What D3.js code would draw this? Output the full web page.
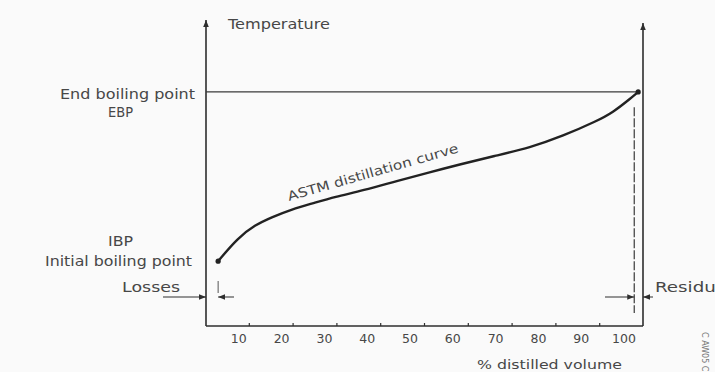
<!DOCTYPE html>
<html>
<head>
<meta charset="utf-8">
<script src="https://cdn.jsdelivr.net/npm/d3@7"></script>
<style>
  html, body { margin: 0; padding: 0; background: #fafafa; }
  svg { display: block; }
  text { font-family: "DejaVu Sans", sans-serif; fill: #474747; }
</style>
</head>
<body>
<svg id="chart" width="715" height="372"></svg>
<script>
// ---- data ----
const volume      = [3.0, 7.5, 11.4, 15.3, 19.9, 24.4, 29.7, 36.1, 43.8, 51.4, 58.2, 66.2, 74.2, 81.7, 89.5, 93.2, 97.0, 98.9];
const temperature = [21.2, 28.8, 33.0, 35.6, 38.2, 40.0, 42.2, 44.3, 47.4, 50.3, 52.8, 55.6, 58.3, 62.1, 67.0, 69.9, 74.2, 76.5];
const tickValues  = [10, 20, 30, 40, 50, 60, 70, 80, 90, 100];
const tickLabels  = ["10", "20", "30", "40", "50", "60", "70", "80", "90", "100"];
const lossesEnd   = 3.0;   // % where distillation begins (IBP)
const residueStart = 98.0; // % where residue begins
const ebpTemp     = 76.5;

const svg = d3.select("#chart");
const x = d3.scaleLinear().domain([0, 100]).range([205, 643]);
const y = d3.scaleLinear().domain([0, 100]).range([326, 20]);

const ink = "#2e2e2e";

// arrow markers
const defs = svg.append("defs");
defs.append("marker").attr("id", "arr").attr("viewBox", "0 0 10 10")
  .attr("refX", 10).attr("refY", 5).attr("markerWidth", 7).attr("markerHeight", 7)
  .attr("orient", "auto-start-reverse").attr("markerUnits", "userSpaceOnUse")
  .append("path").attr("d", "M0,1 L10,5 L0,9 Z").attr("fill", ink);

// left axis
svg.append("line").attr("x1", x(0) + 1).attr("x2", x(0) + 1)
  .attr("y1", y(0)).attr("y2", y(100))
  .attr("stroke", ink).attr("stroke-width", 1.6).attr("marker-end", "url(#arr)");
// right axis
svg.append("line").attr("x1", x(100)).attr("x2", x(100))
  .attr("y1", y(0)).attr("y2", y(99))
  .attr("stroke", ink).attr("stroke-width", 1.6).attr("marker-end", "url(#arr)");

// bottom axis
const xAxis = d3.axisTop(x).tickValues(tickValues.slice(0, -1)).tickSize(3).tickFormat("");
const gx = svg.append("g").attr("transform", `translate(0,${y(0)})`).call(xAxis);
gx.select(".domain").attr("d", `M${x(0) + 1},0H${x(100)}`).attr("stroke", ink).attr("stroke-width", 1.6);
gx.selectAll(".tick line").attr("stroke", ink).attr("stroke-width", 1.2);

// tick labels
svg.append("g").selectAll("text").data(tickValues).join("text")
  .attr("x", (d, i) => x(d) - 10 - i * 1.0)
  .attr("y", 343)
  .attr("text-anchor", "middle")
  .attr("font-size", 12.5)
  .text((d, i) => tickLabels[i]);

// EBP horizontal line
svg.append("line").attr("x1", x(0) + 1).attr("x2", x(volume[volume.length - 1]))
  .attr("y1", y(ebpTemp)).attr("y2", y(ebpTemp))
  .attr("stroke", "#3a3a3a").attr("stroke-width", 1.3);

// residue dashed vertical line
svg.append("line").attr("x1", x(residueStart)).attr("x2", x(residueStart))
  .attr("y1", y(71.5)).attr("y2", 313)
  .attr("stroke", "#3a3a3a").attr("stroke-width", 1.2).attr("stroke-dasharray", "9,2");

// losses small vertical mark
svg.append("line").attr("x1", x(lossesEnd)).attr("x2", x(lossesEnd))
  .attr("y1", 281).attr("y2", 293)
  .attr("stroke", "#555").attr("stroke-width", 1);

// distillation curve
const pts = volume.map((v, i) => [v, temperature[i]]);
const line = d3.line().x(d => x(d[0])).y(d => y(d[1])).curve(d3.curveBasis);
svg.append("path").attr("d", line(pts)).attr("fill", "none")
  .attr("stroke", "#222").attr("stroke-width", 2.4).attr("stroke-linecap", "round");
// end points
svg.append("circle").attr("cx", x(volume[0])).attr("cy", y(temperature[0])).attr("r", 2.6).attr("fill", "#222");
svg.append("circle").attr("cx", x(volume[volume.length - 1])).attr("cy", y(temperature[temperature.length - 1])).attr("r", 2.6).attr("fill", "#222");

// losses dimension arrows
const yDim = 297;
svg.append("line").attr("x1", 163).attr("x2", x(0) + 1).attr("y1", yDim).attr("y2", yDim)
  .attr("stroke", ink).attr("stroke-width", 1).attr("marker-end", "url(#arr)");
svg.append("line").attr("x1", 234).attr("x2", x(lossesEnd)).attr("y1", yDim).attr("y2", yDim)
  .attr("stroke", ink).attr("stroke-width", 1).attr("marker-end", "url(#arr)");
// residue dimension arrows
svg.append("line").attr("x1", 605).attr("x2", x(residueStart)).attr("y1", yDim).attr("y2", yDim)
  .attr("stroke", ink).attr("stroke-width", 1).attr("marker-end", "url(#arr)");
svg.append("line").attr("x1", 653).attr("x2", x(100)).attr("y1", yDim).attr("y2", yDim)
  .attr("stroke", ink).attr("stroke-width", 1).attr("marker-end", "url(#arr)");

// text labels
function label(t, xx, yy, w, size, anchor) {
  const el = svg.append("text").attr("x", xx).attr("y", yy)
    .attr("font-size", size).attr("text-anchor", anchor || "start").text(t);
  if (w) el.attr("textLength", w).attr("lengthAdjust", "spacingAndGlyphs");
  return el;
}
label("Temperature", 228, 29, 102, 14);
label("End boiling point", 60, 99, 135, 14);
label("EBP", 108, 117, 25, 14);
label("IBP", 108, 246, 25, 14);
label("Initial boiling point", 45, 266, 147, 14);
label("Losses", 122, 292, 58, 14);
label("Residue", 655, 292, 72, 14);
label("% distilled volume", 477, 369, 145, 13);

// curve label along the curve
svg.append("text").attr("transform", "translate(289,201) rotate(-16)")
  .attr("font-size", 13).attr("textLength", 177).attr("lengthAdjust", "spacingAndGlyphs")
  .text("ASTM distillation curve");

// figure id (vertical)
svg.append("text").attr("transform", "translate(702,332) rotate(90)")
  .attr("font-size", 8).style("fill", "#777")
  .text("C AW05 C");
</script>
</body>
</html>
